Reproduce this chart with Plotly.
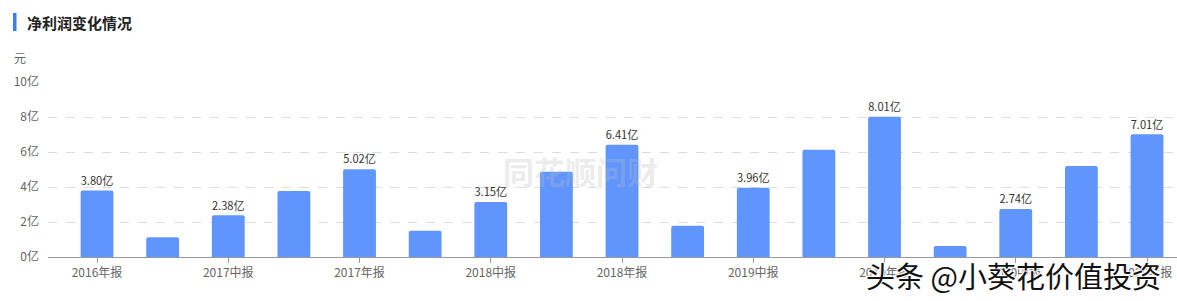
import plotly.graph_objects as go

categories = ["2016年报", "2017一季报", "2017中报", "2017三季报", "2017年报",
              "2018一季报", "2018中报", "2018三季报", "2018年报", "2019一季报",
              "2019中报", "2019三季报", "2019年报", "2020一季报", "2020中报",
              "2020三季报", "2020年报"]
values = [3.80, 1.13, 2.38, 3.77, 5.02, 1.50, 3.15, 4.87, 6.41, 1.79,
          3.96, 6.13, 8.01, 0.63, 2.74, 5.20, 7.01]
tick_labels = categories[::2]
y_ticks = [0, 2, 4, 6, 8, 10]
y_tick_text = [f"{v}亿" for v in y_ticks]

FONT = "Noto Sans CJK SC, Microsoft YaHei, sans-serif"
L, R, T, B = 48, 0, 82, 44
W, H = 1177, 301
pw, ph = W - L - R, H - T - B

def px(x):
    return (x - L) / pw

def py(y):
    return (H - B - y) / ph

labels = [f"{v:.2f}亿" if i % 2 == 0 else "" for i, v in enumerate(values)]

fig = go.Figure(go.Bar(
    x=categories, y=values, width=0.5,
    marker=dict(color="#5f95fc", line=dict(width=0), cornerradius=2),
    text=labels, textposition="outside", cliponaxis=False,
    textfont=dict(family=FONT, size=12, color="#333"),
    hoverinfo="skip",
))

fig.update_layout(
    width=W, height=H,
    margin=dict(l=L, r=R, t=T, b=B),
    paper_bgcolor="white", plot_bgcolor="white",
    showlegend=False, bargap=0.5,
    font=dict(family=FONT, size=12, color="#666"),
)
fig.update_xaxes(
    type="category", range=[-0.747, 16.457],
    tickvals=tick_labels, ticktext=tick_labels,
    ticks="outside", ticklen=5, tickcolor="#999",
    showline=True, linecolor="#999", linewidth=1,
    showgrid=False, tickfont=dict(size=12, color="#666"),
    fixedrange=True,
)
fig.update_yaxes(
    range=[0, 10], tickvals=y_ticks, ticktext=y_tick_text,
    showgrid=True, gridcolor="#dcdcdc", griddash="dash", gridwidth=1,
    zeroline=False, showline=False, ticks="", ticklabelstandoff=8,
    tickfont=dict(size=12, color="#666"), fixedrange=True,
)

# title accent bar
fig.add_shape(type="rect", xref="paper", yref="paper",
              x0=px(13), x1=px(16.5), y0=py(31), y1=py(13),
              fillcolor="#3a7cf2", line=dict(width=0))
fig.add_annotation(xref="paper", yref="paper", x=px(25), y=py(22),
                   xanchor="left", yanchor="middle", showarrow=False,
                   text="<b>净利润变化情况</b>",
                   font=dict(family=FONT, size=15, color="#222"))
fig.add_annotation(xref="paper", yref="paper", x=px(12), y=py(57),
                   xanchor="left", yanchor="middle", showarrow=False,
                   text="元", font=dict(family=FONT, size=12, color="#666"))
# watermark
fig.add_annotation(xref="paper", yref="paper", x=px(580), y=py(170),
                   xanchor="center", yanchor="middle", showarrow=False,
                   text="<b>同花顺问财</b>",
                   font=dict(family=FONT, size=31, color="rgba(190,190,190,0.3)"))
# overlay signature
fig.add_annotation(xref="paper", yref="paper", x=px(1013), y=py(275),
                   xanchor="center", yanchor="middle", showarrow=False,
                   text="头条 @小葵花价值投资",
                   font=dict(family=FONT, size=29, color="#111",
                             shadow="1px 1px 1px white, -1px -1px 1px white, 1px -1px 1px white, -1px 1px 1px white"))

fig.write_html("out.html")
